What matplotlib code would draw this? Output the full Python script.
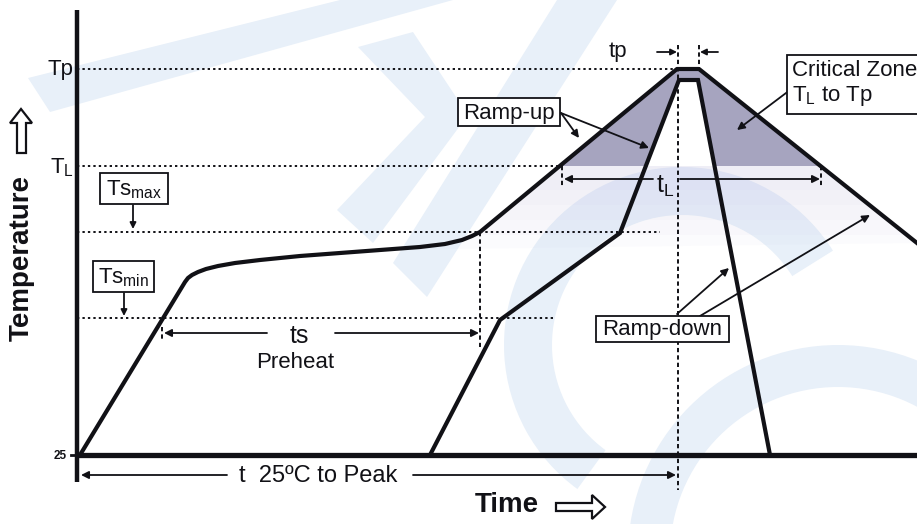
import numpy as np
import matplotlib
matplotlib.use('Agg')
import matplotlib.pyplot as plt
from matplotlib.patches import Rectangle, Polygon, Wedge

plt.rcParams['font.family'] = ['Liberation Sans', 'DejaVu Sans']
plt.rcParams['mathtext.fontset'] = 'custom'
plt.rcParams['mathtext.rm'] = 'Liberation Sans'
plt.rcParams['mathtext.it'] = 'Liberation Sans:italic'

# drawing units are the picture's pixels (time -> right, temperature -> up = smaller y)
# temperature levels
y_base = 455
y_tsmin = 318
y_tsmax = 232
y_tl = 166
y_tp = 69

# maximum profile (outer curve)
outer_t = [80, 185, 188, 192, 198, 206, 218, 235, 260, 300, 340, 380, 420, 445, 462, 472, 480, 677, 699, 917]
outer_T = [455, 282, 278, 275, 272, 269, 266, 263, 260, 256, 253, 250, 247, 244, 240, 236, 232, 69, 69, 243]

# minimum profile (inner curve)
inner_t = [430, 500, 620, 679, 698, 770]
inner_T = [455, 320, 233, 80, 80, 455]

# time marks
t_start = 80
t_ts1 = 162
t_ts2 = 480
t_peak = 678
t_peak2 = 699
t_l1 = 562
t_l2 = 821

ink = '#111116'
shade = '#a6a4bf'
wm = '#e8f0f9'

fig = plt.figure(figsize=(9.17, 5.24), dpi=100)
ax = fig.add_axes([0, 0, 1, 1])
ax.set_xlim(0, 917)
ax.set_ylim(524, 0)
ax.axis('off')

# --- watermark (pale blue shapes in the background)
ax.add_patch(Polygon([(28, 78), (340, 0), (453, 0), (50, 112)], color=wm, zorder=0, lw=0))
ax.add_patch(Polygon([(557, 0), (617, 0), (427, 297), (393, 263)], color=wm, zorder=0, lw=0))
ax.add_patch(Polygon([(358, 47), (413, 32), (468, 115), (373, 243), (337, 210), (425, 117)],
                     color=wm, zorder=0, lw=0))
ax.add_patch(Wedge((682, 345), 178, 126, 328, width=48, color=wm, zorder=0, lw=0))
ax.add_patch(Wedge((838, 555), 210, 0, 360, width=42, color=wm, zorder=0, lw=0))

# --- faint band just below T_L and critical zone shading
ot = np.array(outer_t, float)
oT = np.array(outer_T, float)
it = np.array(inner_t, float)
iT = np.array(inner_T, float)


def above(tx, Tx, level):
    # part of a profile above a level, closed along the level line
    pts = []
    for k in range(len(tx) - 1):
        a, b = (tx[k], Tx[k]), (tx[k + 1], Tx[k + 1])
        if a[1] <= level:
            pts.append(a)
        if (a[1] - level) * (b[1] - level) < 0:
            f = (level - a[1]) / (b[1] - a[1])
            pts.append((a[0] + f * (b[0] - a[0]), level))
    if Tx[-1] <= level:
        pts.append((tx[-1], Tx[-1]))
    return pts


# soft lavender haze fading downward below T_L
for lev in [250, 235, 220, 205, 190]:
    ax.add_patch(Polygon(above(ot, oT, lev), color='#b8b4e0', alpha=0.045, zorder=0.5, lw=0))
ax.add_patch(Polygon(above(ot, oT, y_tl), color=shade, zorder=1, lw=0))
ax.add_patch(Polygon(above(it, iT, y_tl), color='white', zorder=1.1, lw=0))

# --- dotted guide lines
dot = dict(color=ink, lw=1.4, ls=(0, (1.2, 1.6)), zorder=2)
ax.plot([77, t_peak], [y_tp, y_tp], **dot)
ax.plot([77, t_l1], [y_tl, y_tl], **dot)
ax.plot([77, 660], [y_tsmax, y_tsmax], **dot)
ax.plot([77, 555], [y_tsmin, y_tsmin], **dot)
vdot = dict(color=ink, lw=1.4, ls=(0, (2.2, 1.6)), zorder=2)
ax.plot([t_peak, t_peak], [45, 490], **vdot)
ax.plot([t_peak2, t_peak2], [45, y_tp], **vdot)
ax.plot([t_ts2, t_ts2], [y_tsmax, 347], **vdot)
ax.plot([t_l1, t_l1], [y_tl, 188], **vdot)
ax.plot([t_l2, t_l2], [y_tl, 188], **vdot)
ax.plot([t_ts1, t_ts1], [327, 339], **vdot)

# --- axes
ax.plot([77, 77], [10, 482], color=ink, lw=3.2, solid_capstyle='butt', zorder=4)
ax.plot([77, 917], [y_base, y_base], color=ink, lw=3.8, solid_capstyle='butt', zorder=4)
ax.plot([71, 77], [y_base, y_base], color=ink, lw=2, zorder=4)

# --- profiles
ax.plot(outer_t, outer_T, color=ink, lw=3.0, solid_joinstyle='round', zorder=5)
ax.plot(inner_t, inner_T, color=ink, lw=3.0, solid_joinstyle='miter', zorder=5)


def arrow(x0, y0, x1, y1, lw=1.3, ms=11):
    ax.annotate('', xy=(x1, y1), xytext=(x0, y0),
                arrowprops=dict(arrowstyle='-|>', lw=lw, color=ink, shrinkA=0, shrinkB=0,
                                mutation_scale=ms), zorder=6)


# time spans
arrow(267, 333, t_ts1 + 2, 333)
arrow(335, 333, t_ts2 - 1, 333)
arrow(227, 475, t_start + 1, 475)
arrow(413, 475, t_peak - 2, 475)
arrow(653, 179, t_l1 + 2, 179)
arrow(680, 179, t_l2 - 1, 179)
arrow(657, 52, t_peak - 1, 52, ms=9)
arrow(718, 52, t_peak2 + 1, 52, ms=9)

# callouts
arrow(133, 205, 133, 229, ms=9)
arrow(124, 293, 124, 316, ms=9)
arrow(561, 113, 579, 138)
arrow(561, 113, 649, 148)
arrow(677, 314, 729, 268)
arrow(700, 316, 870, 215)
arrow(790, 90, 737, 130)

fs = 16
ax.text(299, 336, 'ts', fontsize=18, ha='center', va='center', color=ink, zorder=7)
ax.text(295, 362, 'Preheat', fontsize=fs, ha='center', va='center', color=ink, zorder=7)
ax.text(318, 476, 't  25ºC to Peak', fontsize=17, ha='center', va='center', color=ink, zorder=7)
ax.text(665, 186, r'$\mathrm{t_L}$', fontsize=18, ha='center', va='center', color=ink, zorder=7)
ax.text(618, 51, 'tp', fontsize=fs, ha='center', va='center', color=ink, zorder=7)

ax.text(74, 69, 'Tp', fontsize=fs, ha='right', va='center', color=ink)
ax.text(74, 168, r'$\mathrm{T_L}$', fontsize=fs, ha='right', va='center', color=ink)
ax.text(67, 456, '25', fontsize=8.5, ha='right', va='center', color=ink, fontweight='bold')

ax.text(22, 258, 'Temperature', fontsize=20, fontweight='bold', rotation=90,
        ha='center', va='center', color=ink)
ax.text(507, 505, 'Time', fontsize=20, fontweight='bold', ha='center', va='center', color=ink)

# hollow direction arrows next to the axis titles
ax.add_patch(Polygon([(21, 109), (32, 123), (26, 123), (26, 153), (17, 153), (17, 123), (10, 123)],
                     fc='white', ec=ink, lw=1.6, joinstyle='miter', zorder=7))
ax.add_patch(Polygon([(605, 507), (592, 495), (592, 503), (556, 503), (556, 511), (592, 511), (592, 519)],
                     fc='white', ec=ink, lw=1.6, joinstyle='miter', zorder=7))

# boxed labels
boxes = [
    (100, 173, 68, 31, r'Ts$_{\mathrm{max}}$'),
    (93, 261, 61, 31, r'Ts$_{\mathrm{min}}$'),
    (458, 98, 102, 28, 'Ramp-up'),
    (596, 316, 133, 26, 'Ramp-down'),
]
for bx, by, bw, bh, lab in boxes:
    ax.add_patch(Rectangle((bx, by), bw, bh, fill=True, fc='white', ec=ink, lw=1.3, zorder=6))
    ax.text(bx + bw / 2, by + bh / 2 + 1, lab, fontsize=fs, ha='center', va='center',
            color=ink, zorder=7)

ax.add_patch(Rectangle((787, 55), 160, 59, fc='white', ec=ink, lw=1.3, zorder=6))
ax.text(792, 70, 'Critical Zone', fontsize=fs, ha='left', va='center', color=ink, zorder=7)
ax.text(792, 96, r'$\mathrm{T_L}$ to Tp', fontsize=fs, ha='left', va='center', color=ink, zorder=7)

fig.savefig('out.png', dpi=100)
